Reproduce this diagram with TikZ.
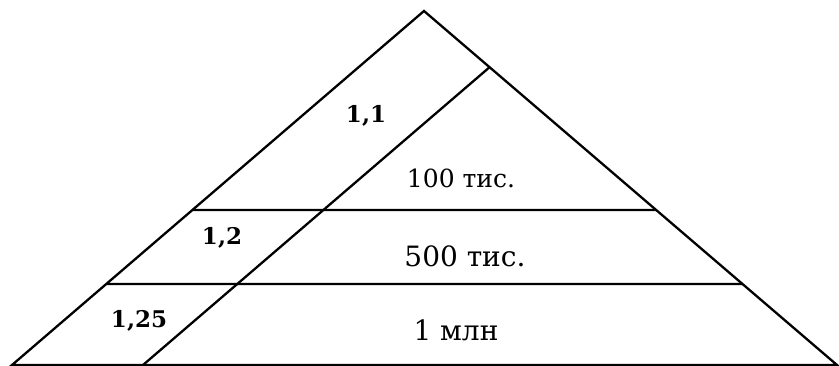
\documentclass[tikz,border=0pt]{standalone}
\usepackage{fontspec}
\setmainfont{DejaVu Serif}
\usepackage{tikz}
\tikzset{
  edge/.style={line width=2.3pt,line join=miter},
  rate/.style={font=\fontsize{23}{26}\bfseries\selectfont},
  band/.style={font=\fontsize{28}{32}\selectfont},
}

\begin{document}
\begin{tikzpicture}[x=1pt,y=-1pt]
\useasboundingbox (0,0) rectangle (839,366);

% ============ outer triangle ============
\coordinate (top) at (424,11);
\coordinate (bl) at (12,365);
\coordinate (br) at (837,365);
\draw[edge] (bl) -- (top) -- (br) -- cycle;

% ============ horizontal bands ============
\coordinate (lowL) at (intersection of bl--top and 0,284--839,284);
\coordinate (lowR) at (intersection of br--top and 0,284--839,284);
\coordinate (midL) at (intersection of bl--top and 0,210--839,210);
\coordinate (midR) at (intersection of br--top and 0,210--839,210);
\draw[edge] (lowL) -- (lowR);
\draw[edge] (midL) -- (midR);

% ============ inner slanted line ============
\coordinate (inB) at (143,365);
\coordinate (inT) at (intersection of br--top and 143,365--555,11);
\draw[edge] (inB) -- (inT);

% ============ labels ============
\node[rate] (r1) at (366,116) {1,1};
\node[rate] (r2) at (222,238) {1,2};
\node[rate] (r3) at (139,321) {1,25};
\node[band,font=\fontsize{25}{29}\selectfont] (b1) at (461,178) {100 тис.};
\node[band] (b2) at (465,256) {500 тис.};
\node[band] (b3) at (456,330) {1 млн};

\end{tikzpicture}
\end{document}
